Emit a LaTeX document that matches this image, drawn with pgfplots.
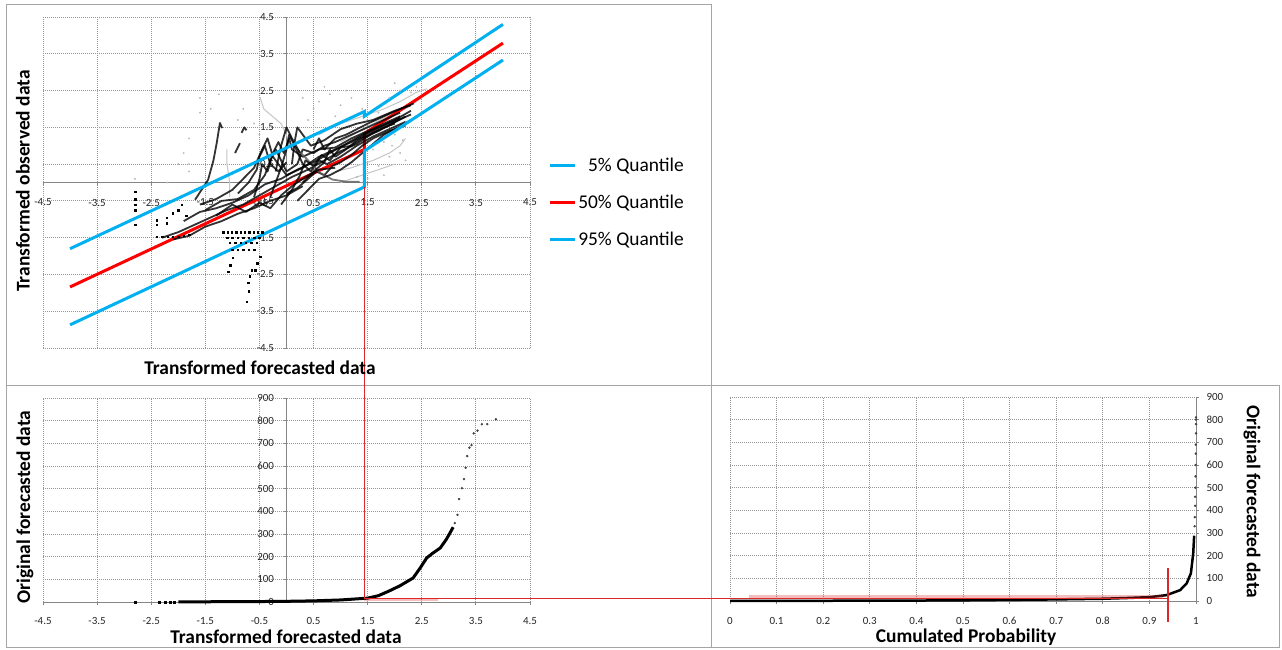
\documentclass[border=0pt]{standalone}
\usepackage{pgfplots}
\pgfplotsset{compat=1.18}
\usepackage{fontspec}
\setmainfont{Carlito}
\definecolor{axgray}{RGB}{134,134,134}
\definecolor{gridgray}{RGB}{150,150,150}
\definecolor{framegray}{RGB}{165,165,165}
\definecolor{qcyan}{RGB}{0,176,240}
\definecolor{qred}{RGB}{255,0,0}
\definecolor{guide}{RGB}{220,40,40}
\newcommand\tfont{\bfseries\fontsize{19.5}{21}\selectfont}
\pgfplotsset{
 common/.style={scale only axis, anchor=south west, clip=false, enlargelimits=false,
  grid=major, major grid style={draw=gridgray, dash pattern=on 1bp off 1bp, line width=0.8bp},
  axis line style={draw=axgray, line width=1bp},
  tick style={draw=axgray, line width=0.8bp}, major tick length=3bp, tick align=outside,
  ticklabel style={font=\fontsize{11}{12}\selectfont, text=black!85},
  hide obscured x ticks=false, hide obscured y ticks=false,
 },
 blk/.style={black, line width=1.8bp, opacity=0.8, line join=round, forget plot},
 gry/.style={gray!45, line width=1bp, line join=round, forget plot},
 gdot/.style={only marks, mark=*, mark size=0.7bp, gray!55, forget plot},
 bdot/.style={only marks, mark=square*, mark size=0.75bp, black, forget plot},
}
\begin{document}
\begin{tikzpicture}
\fill[white] (0bp,0bp) rectangle (1282bp,650bp);
\useasboundingbox (0bp,0bp) rectangle (1282bp,650bp);
\draw[framegray, line width=1bp] (6bp,645bp) rectangle (711bp,264.5bp);
\draw[framegray, line width=1bp] (6bp,264.5bp) rectangle (711bp,2bp);
\draw[framegray, line width=1bp] (711bp,264.5bp) rectangle (1279bp,2bp);

% ---------------- top panel ----------------
\begin{axis}[common, at={(43bp,302bp)}, width=487bp, height=331bp,
 xmin=-4.5, xmax=4.5, ymin=-4.5, ymax=4.5, axis lines*=middle,
 xtick={-4.5,-3.5,-2.5,-1.5,-0.5,0.5,1.5,2.5,3.5,4.5},
 ytick={-4.5,-3.5,-2.5,-1.5,-0.5,0.5,1.5,2.5,3.5,4.5},
 xticklabels={-4.5,-3.5,-2.5,-1.5,-0.5,0.5,1.5,2.5,3.5,4.5},
 yticklabels={-4.5,-3.5,-2.5,-1.5,-0.5,0.5,1.5,2.5,3.5,4.5},
 xticklabel style={anchor=center, yshift=-17bp},
 yticklabel style={anchor=east, xshift=-6bp},
 legend style={at={(1.032,0.441)}, anchor=west, draw=none, fill=none,
   font=\fontsize{19.5}{21}\selectfont, row sep=19bp, nodes={inner sep=1.5bp}},
 legend cell align=right,
 legend image code/.code={\draw[#1] (0bp,0bp) -- (25bp,0bp);},
]
\addlegendimage{qcyan, line width=3bp}\addlegendentry{\phantom{0}5\% Quantile}
\addlegendimage{qred, line width=3bp}\addlegendentry{50\% Quantile}
\addlegendimage{qcyan, line width=3bp}\addlegendentry{95\% Quantile}
% gray background lines and dots
\addplot[gry] coordinates {(-0.49,2.32)(-0.42,2.0)(-0.3,1.85)(-0.1,1.6)(0.0,1.3)(0.05,1.0)};
\addplot[gry] coordinates {(0.6,1.3)(1.0,1.6)(1.4,1.8)(1.8,2.0)(2.1,2.2)(2.4,2.45)(2.6,2.55)};
\addplot[gry] coordinates {(1.0,1.1)(1.4,1.45)(1.8,1.75)(2.2,2.0)(2.5,2.3)};
\addplot[gry] coordinates {(0.9,0.3)(1.2,0.4)(1.6,0.6)(1.9,0.8)(2.1,1.0)(2.2,1.2)};
\addplot[gry] coordinates {(1.0,0.0)(1.4,0.2)(1.7,0.35)(2.0,0.5)};
\addplot[gry] coordinates {(-1.1,0.9)(-1.1,0.5)(-1.05,0.0)(-1.05,-0.4)};
\addplot[gdot] coordinates {(-1.8,1.2)(-1.8,0.5)(-1.8,0.3)(-2.0,0.5)(-1.6,2.3)(-1.25,2.4)(-1.6,1.9)
 (-0.5,1.3)(-0.8,2.0)(-0.6,1.6)(0.7,2.6)(0.3,2.3)(0.8,2.4)(1.0,2.1)(1.2,2.3)(1.4,2.0)(0.5,2.0)
 (-0.9,1.7)(-1.5,1.0)(1.7,1.9)(1.9,2.3)(2.1,2.5)(2.3,2.45)(1.6,0.9)(1.8,1.1)(2.0,1.3)(1.7,0.45)
 (1.9,0.7)(2.1,0.8)(1.5,0.1)(1.3,0.15)(-2.8,0.1)(-2.2,0.0)(0.4,1.7)(0.9,1.8)(2.2,0.6)(1.8,0.2)
 (-1.4,2.0)(-1.9,0.8)(0.6,2.2)(1.1,2.5)(2.0,2.7)(2.4,2.6)(1.95,1.0)(2.15,1.15)};
% quantile line 50%
\addplot[qred, line width=3bp, forget plot] coordinates {(-4,-2.84)(1.44,0.90)(1.44,1.33)(4,3.79)};
% black trajectories
\addplot[blk] coordinates {(-2.3,-1.5)(-2.0,-1.35)(-1.7,-1.15)(-1.4,-0.95)(-1.1,-0.75)(-0.8,-0.6)(-0.5,-0.35)(-0.2,-0.1)(0.1,0.15)(0.4,0.35)(0.7,0.6)(1.0,0.85)(1.3,1.05)(1.6,1.35)(1.9,1.55)(2.2,1.8)};
\addplot[blk] coordinates {(-1.9,-1.05)(-1.6,-0.8)(-1.3,-0.7)(-1.0,-0.55)(-0.7,-0.35)(-0.4,-0.05)(-0.1,0.1)(0.2,0.35)(0.5,0.55)(0.8,0.8)(1.1,1.05)(1.4,1.3)(1.7,1.5)(2.0,1.7)(2.3,1.95)};
\addplot[blk] coordinates {(-1.5,-0.75)(-1.2,-0.5)(-0.9,-0.45)(-0.6,-0.2)(-0.4,0.2)(-0.3,0.6)(-0.2,0.9)(-0.1,0.6)(0.0,0.3)(0.2,0.5)(0.3,0.9)(0.5,0.8)(0.7,1.0)(0.9,1.1)(1.2,1.3)(1.5,1.5)(1.8,1.7)(2.1,1.9)};
\addplot[blk] coordinates {(-0.6,-0.4)(-0.5,0.1)(-0.45,0.5)(-0.35,0.3)(-0.25,0.8)(-0.15,1.1)(-0.05,0.8)(0.05,1.2)(0.1,0.9)(0.3,0.7)(0.6,0.9)(0.9,0.95)(1.2,1.2)(1.5,1.4)(1.8,1.6)(2.1,1.8)};
\addplot[blk] coordinates {(-0.3,-0.4)(-0.2,0.0)(-0.1,0.4)(0.0,0.9)(0.05,1.3)(0.15,1.0)(0.3,0.5)(0.45,0.3)(0.6,0.6)(0.75,0.5)(1.0,0.7)(1.3,1.0)(1.6,1.25)(1.9,1.45)(2.2,1.65)};
\addplot[blk] coordinates {(0.0,-0.3)(0.2,-0.15)(0.4,0.1)(0.55,0.3)(0.7,0.2)(0.85,0.45)(1.0,0.55)(1.2,0.75)(1.4,1.0)(1.6,1.2)(1.9,1.4)(2.2,1.55)};
\addplot[blk, gray!70!black] coordinates {(0.2,0.9)(0.4,0.6)(0.62,0.26)(0.85,0.08)(1.11,0.02)(1.35,0.02)};
\addplot[blk] coordinates {(-1.69,-0.47)(-1.45,0.07)(-1.35,0.6)(-1.29,1.07)(-1.23,1.62)(-1.19,1.48)};
\addplot[blk] coordinates {(-0.95,0.8)(-0.86,1.07)};
\addplot[blk] coordinates {(-0.83,1.35)(-0.78,1.5)(-0.74,1.42)};
\addplot[blk] coordinates {(0.3,0.0)(0.5,0.3)(0.7,0.55)(0.8,0.9)(0.9,0.7)(1.1,0.9)(1.3,1.15)(1.5,1.3)(1.8,1.5)(2.0,1.6)};
\addplot[blk] coordinates {(-0.9,-0.3)(-0.7,0.0)(-0.55,0.35)(-0.5,0.7)(-0.4,1.0)(-0.3,0.5)(-0.15,0.3)(0.0,0.55)};
\addplot[blk] coordinates {(0.1,0.5)(0.15,1.1)(0.2,1.5)(0.3,1.3)(0.45,1.0)(0.7,1.15)(1.0,1.45)(1.3,1.6)(1.6,1.7)(2.0,1.95)(2.3,2.1)};
\addplot[blk] coordinates {(-2.1,-1.55)(-1.8,-1.45)(-1.5,-1.2)(-1.2,-1.05)(-0.9,-0.85)(-0.6,-0.7)(-0.3,-0.5)(0.0,-0.35)(0.3,-0.1)};
\addplot[blk] coordinates {(-1.3,-0.9)(-1.0,-0.6)(-0.75,-0.8)(-0.5,-0.55)(-0.3,-0.7)(-0.1,-0.35)(0.1,-0.1)(0.35,0.15)(0.6,0.35)(0.9,0.4)};
\addplot[blk] coordinates {(-1.6,-0.6)(-1.3,-0.45)(-1.0,-0.2)(-0.8,0.1)(-0.6,0.4)(-0.45,0.9)(-0.35,1.2)(-0.25,0.7)(0,0.2)(0.3,0.4)(0.6,0.7)(0.9,0.9)(1.2,1.1)(1.5,1.35)(1.8,1.55)(2.1,1.75)};
\addplot[blk] coordinates {(0.2,-0.5)(0.4,-0.2)(0.6,0.1)(0.8,0.2)(1.0,0.35)(1.2,0.55)(1.4,0.8)(1.6,1.05)(1.8,1.3)(2.0,1.45)(2.3,1.7)};
\addplot[blk] coordinates {(-0.1,-0.6)(0.1,-0.2)(0.25,0.2)(0.35,0.6)(0.5,0.45)(0.65,0.75)(0.8,0.6)(1.0,0.95)(1.2,1.0)(1.4,1.2)(1.7,1.4)(2.0,1.65)(2.3,1.85)};
\addplot[blk] coordinates {(0.5,0.9)(0.6,1.2)(0.7,0.9)(0.9,1.2)(1.1,1.3)(1.3,1.45)(1.5,1.6)(1.8,1.8)(2.1,2.0)(2.35,2.15)};
\addplot[blk] coordinates {(-0.2,0.3)(-0.1,1.0)(0.0,1.5)(0.1,1.2)(0.25,0.8)};
% black sparse marks
\addplot[bdot] coordinates {(-2.8,-0.25)(-2.8,-0.45)(-2.8,-0.6)(-2.8,-0.75)(-2.8,-1.15)
 (-2.40,-1.02)(-2.40,-1.15)(-2.21,-0.96)(-2.21,-1.1)(-2.10,-0.83)(-2.0,-0.75)(-1.94,-0.61)(-1.85,-0.9)
 (-2.4,-1.48)(-2.3,-1.48)(-2.2,-1.48)(-2.1,-1.48)(-2.0,-1.48)(-1.9,-1.45)(-1.8,-1.42)
 (-1.17,-1.35)(-1.09,-1.35)(-1.01,-1.35)(-0.93,-1.35)(-0.85,-1.35)(-0.77,-1.35)(-0.69,-1.35)(-0.61,-1.35)(-0.53,-1.35)(-0.45,-1.35)
 (-1.1,-1.5)(-1.0,-1.5)(-0.9,-1.5)(-0.8,-1.5)(-0.7,-1.5)(-0.6,-1.5)(-0.5,-1.5)
 (-1.05,-1.64)(-0.95,-1.64)(-0.85,-1.64)(-0.75,-1.64)(-0.65,-1.64)(-0.55,-1.64)
 (-1.0,-1.83)(-0.9,-1.83)(-0.8,-1.83)(-0.7,-1.83)(-0.6,-1.83)
 (-1.08,-2.43)(-1.04,-2.25)(-0.99,-2.05)(-0.71,-2.73)(-0.68,-2.55)(-0.64,-2.38)
 (-0.58,-2.38)(-0.54,-2.2)(-0.49,-2.02)(-0.74,-3.24)(-0.70,-2.95)};
% quantile lines 5% and 95%
\addplot[qcyan, line width=3bp, forget plot] coordinates {(-4,-1.80)(1.44,1.93)(1.44,1.80)(4,4.30)};
\addplot[qcyan, line width=3bp, forget plot] coordinates {(-4,-3.87)(1.44,-0.12)(1.44,0.86)(4,3.33)};
\coordinate (gTop) at (axis cs:1.44,-0.12);
\end{axis}

% ---------------- bottom-left panel ----------------
\begin{axis}[common, at={(43bp,48bp)}, width=487bp, height=204bp,
 xmin=-4.5, xmax=4.5, ymin=0, ymax=900, axis lines*=middle,
 xtick={-4.5,-3.5,-2.5,-1.5,-0.5,0.5,1.5,2.5,3.5,4.5},
 xticklabels={-4.5,-3.5,-2.5,-1.5,-0.5,0.5,1.5,2.5,3.5,4.5},
 ytick={0,100,...,900},
 yticklabels={0,100,200,300,400,500,600,700,800,900},
 xticklabel style={anchor=center, yshift=-16bp},
 yticklabel style={anchor=east, xshift=-6bp},
]
\addplot[bdot, mark size=1bp] coordinates {(-2.80,0)(-2.35,0)(-2.25,0)(-2.15,0)(-2.07,0)};
\addplot[black, line width=3bp, line join=round] coordinates {(-2.0,0.5)(-1.5,1)(-1.0,1.5)(-0.5,2)(0,3)(0.5,5)(1.0,9)(1.5,17)(1.7,28)(1.91,50)(2.1,72)(2.34,106)(2.47,150)(2.59,194)(2.7,215)(2.84,238)(2.95,275)(3.02,304)(3.08,330)};
\addplot[only marks, mark=*, mark size=1bp, black!75] coordinates {(3.11,348)(3.16,384)(3.19,454)(3.24,502)(3.28,542)(3.31,592)(3.34,644)(3.38,681)(3.42,692)(3.46,744)(3.53,756)(3.61,784)(3.71,785)(3.87,806)};
\draw[guide, opacity=0.3, line width=3bp] (axis cs:1.44,10) -- (axis cs:2.8,10);
\coordinate (gBL) at (axis cs:1.44,16);
\end{axis}

% ---------------- bottom-right panel ----------------
\begin{axis}[common, at={(730bp,49bp)}, width=466bp, height=204bp,
 xmin=0, xmax=1, ymin=0, ymax=900, axis x line*=bottom, axis y line*=right,
 xtick={0,0.1,...,1.0},
 xticklabels={0,0.1,0.2,0.3,0.4,0.5,0.6,0.7,0.8,0.9,1},
 ytick={0,100,...,900},
 yticklabels={0,100,200,300,400,500,600,700,800,900},
 xticklabel style={anchor=center, yshift=-17bp},
 yticklabel style={anchor=west, xshift=4bp},
]
\addplot[black, line width=2.5bp, line join=round] coordinates {(0,0)(0.1,0.5)(0.2,1)(0.3,1.5)(0.4,2)(0.5,3)(0.6,5)(0.7,7)(0.8,10)(0.85,13)(0.9,17)(0.937,26)(0.966,48)(0.98,78)(0.989,122)(0.994,210)(0.996,288)};
\addplot[only marks, mark=*, mark size=1bp, black!75] coordinates {(0.997,330)(0.9975,370)(0.998,420)(0.998,460)(0.9985,500)(0.999,550)(0.999,600)(0.9995,650)(0.9995,690)(1,740)(1,780)(1,800)(1,810)};
\draw[guide, opacity=0.3, line width=3bp] (axis cs:0.04,22) -- (axis cs:0.93,22);
\coordinate (gBR) at (axis cs:0.94,16);
\coordinate (gBRt) at (axis cs:0.94,145);
\coordinate (gBRb) at (axis cs:0.94,-93);
\end{axis}

% guide lines
\draw[guide, line width=1.5bp] (gTop) -- (gBL) -- (gBL -| gBR);
\draw[guide, line width=1.5bp] (gBRt) -- (gBRb);

% axis titles
\node[rotate=90, font=\tfont] at (23bp,469bp) {Transformed observed data};
\node[font=\tfont] at (260bp,282bp) {Transformed forecasted data};
\node[rotate=90, font=\tfont] at (25bp,143bp) {Original forecasted data};
\node[font=\tfont] at (286bp,13bp) {Transformed forecasted data};
\node[font=\tfont] at (966bp,13bp) {Cumulated Probability};
\node[rotate=-90, font=\tfont] at (1252bp,148bp) {Original forecasted data};
\end{tikzpicture}
\end{document}
